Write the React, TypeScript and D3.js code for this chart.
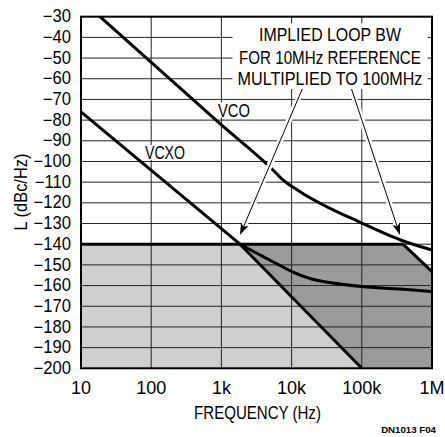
import { useEffect, useRef } from 'react';
import * as d3 from 'd3';

// axis ticks
const xTicks = [10, 100, 1e3, 1e4, 1e5, 1e6];
const xTickLabels = ['10', '100', '1k', '10k', '100k', '1M'];
const yTicks = [-30, -40, -50, -60, -70, -80, -90, -100, -110, -120, -130, -140, -150, -160, -170, -180, -190, -200];

// VCO free-running phase noise
const vcoFreq = [18.6, 1000, 5430, 7300, 13200, 100000, 372000, 1e6];
const vcoNoise = [-30, -82.3, -104.1, -108.5, -114.6, -129.8, -138.2, -142.8];

// VCXO reference phase noise
const vcxoFreq = [10, 1840, 100000];
const vcxoNoise = [-76, -140, -200];

// locked output curve
const pllFreq = [1840, 3550, 6840, 10470, 18280, 38900, 100000, 350000, 1e6];
const pllNoise = [-140, -145.2, -150.3, -153.5, -156.6, -158.8, -160.5, -161.7, -162.9];

// -140 floor and right boundary of the loop bandwidth region
const floorLevel = -140;
const edgeFreq = [386000, 1e6];
const edgeNoise = [-140, -153.3];

// annotation
const noteLines = ['IMPLIED LOOP BW', 'FOR 10MHz REFERENCE', 'MULTIPLIED TO 100MHz'];
const noteWidths = [142, 182, 185];
const noteFreq = 35200;
const noteLevels = [-38.6, -49.6, -60.1];
const arrowApex = [35200, -33.5];
const arrowTips = [[1840, -135.6], [350000, -135.6]];

const curveLabels = [
  { text: 'VCO', f: 1510, v: -75.1, w: 32 },
  { text: 'VCXO', f: 157, v: -95.7, w: 40 },
];

export default function App() {
  const svgRef = useRef<SVGSVGElement>(null);

  useEffect(() => {
    const svg = d3.select(svgRef.current);
    svg.selectAll('*').remove();
    const font = "'Liberation Sans', Arial, sans-serif";

    const x = d3.scaleLog().domain([10, 1e6]).range([81, 432]);
    const y = d3.scaleLinear().domain([-200, -30]).range([368.3, 16.7]);

    const toPts = (fs: number[], vs: number[]) => fs.map((f, i) => [x(f), y(vs[i])] as [number, number]);

    // 横幅を合わせる（細めの書体の代わり）
    const label = (parent: any, px: number, py: number, s: string, size: number, width: number | null,
      anchor = 'middle', baseline = 'auto') => {
      const t = parent.append('text')
        .attr('x', 0).attr('y', 0)
        .attr('text-anchor', anchor)
        .attr('dominant-baseline', baseline)
        .attr('font-family', font)
        .attr('font-size', size)
        .text(s);
      let sx = 1;
      if (width) {
        const n = (t.node() as SVGTextElement).getComputedTextLength();
        sx = width / n;
      }
      t.attr('transform', `translate(${px},${py}) scale(${sx},1)`);
      return t;
    };

    // 塗り
    const crossF = vcxoFreq[1];
    const light: [number, number][] = [
      [x(10), y(floorLevel)],
      ...toPts(vcxoFreq.slice(1), vcxoNoise.slice(1)),
      [x(10), y(-200)],
    ];
    svg.append('path')
      .attr('d', 'M' + light.join('L') + 'Z')
      .attr('fill', '#cfcfcf');

    const dark: [number, number][] = [
      [x(crossF), y(floorLevel)],
      ...toPts(edgeFreq, edgeNoise),
      [x(1e6), y(-200)],
      [x(vcxoFreq[2]), y(vcxoNoise[2])],
    ];
    svg.append('path')
      .attr('d', 'M' + dark.join('L') + 'Z')
      .attr('fill', '#9b9b9b');

    // grid
    svg.append('g').selectAll('line')
      .data(yTicks.slice(1, -1))
      .enter().append('line')
      .attr('x1', x(10)).attr('x2', x(1e6))
      .attr('y1', d => y(d)).attr('y2', d => y(d))
      .attr('stroke', '#222').attr('stroke-width', 1);
    svg.append('g').selectAll('line')
      .data(xTicks.slice(1, -1))
      .enter().append('line')
      .attr('x1', d => x(d)).attr('x2', d => x(d))
      .attr('y1', y(-30)).attr('y2', y(-200))
      .attr('stroke', '#222').attr('stroke-width', 1);

    // curves
    const line = d3.line<[number, number]>().curve(d3.curveMonotoneX);
    const straight = d3.line<[number, number]>();
    const thick = (d: string | null) => svg.append('path')
      .attr('d', d)
      .attr('fill', 'none')
      .attr('stroke', '#000')
      .attr('stroke-width', 3)
      .attr('stroke-linejoin', 'round');

    thick(straight([[x(10), y(floorLevel)], [x(edgeFreq[0]), y(floorLevel)]]));
    thick(straight(toPts(edgeFreq, edgeNoise)));
    thick(straight(toPts(vcxoFreq, vcxoNoise)));
    thick(line(toPts(pllFreq, pllNoise)));
    thick(line(toPts(vcoFreq, vcoNoise)));

    // curve labels with white background
    curveLabels.forEach(l => {
      const g = svg.append('g');
      const cx = x(l.f), cy = y(l.v);
      label(g, cx, cy, l.text, 18, l.w, 'middle', 'central');
      g.insert('rect', 'text')
        .attr('x', cx - l.w / 2 - 1).attr('y', cy - 7.5)
        .attr('width', l.w + 2).attr('height', 15)
        .attr('fill', '#fff');
    });

    // arrows
    const apex = [x(arrowApex[0]), y(arrowApex[1])];
    const tips = arrowTips.map(t => [x(t[0]), y(t[1])]);
    tips.forEach(tp => {
      svg.append('line')
        .attr('x1', apex[0]).attr('y1', apex[1])
        .attr('x2', tp[0]).attr('y2', tp[1])
        .attr('stroke', '#fff').attr('stroke-width', 6);
    });
    tips.forEach(tp => {
      const ang = Math.atan2(tp[1] - apex[1], tp[0] - apex[0]);
      const len = 12, hw = 4, notch = 9;
      const ca = Math.cos(ang), sa = Math.sin(ang);
      const p = (a: number, b: number) => [tp[0] - a * ca - b * sa, tp[1] - a * sa + b * ca];
      svg.append('line')
        .attr('x1', apex[0]).attr('y1', apex[1])
        .attr('x2', p(notch, 0)[0]).attr('y2', p(notch, 0)[1])
        .attr('stroke', '#000').attr('stroke-width', 1);
      svg.append('path')
        .attr('d', 'M' + [tp, p(len, hw), p(notch, 0), p(len, -hw)].join('L') + 'Z')
        .attr('fill', '#000');
    });

    // annotation
    const ng = svg.append('g');
    const top = y(noteLevels[0]) - 11, bottom = y(noteLevels[2]) + 10;
    const wMax = d3.max(noteWidths) as number;
    ng.append('rect')
      .attr('x', x(noteFreq) - wMax / 2 - 5).attr('y', top)
      .attr('width', wMax + 10).attr('height', bottom - top)
      .attr('fill', '#fff');
    noteLines.forEach((s, i) => {
      label(ng, x(noteFreq), y(noteLevels[i]), s, 19, noteWidths[i], 'middle', 'central');
    });

    // frame
    svg.append('rect')
      .attr('x', x(10)).attr('y', y(-30))
      .attr('width', x(1e6) - x(10)).attr('height', y(-200) - y(-30))
      .attr('fill', 'none').attr('stroke', '#000').attr('stroke-width', 2);

    // axis labels
    const yl = svg.append('g');
    yTicks.forEach(d => {
      label(yl, 71, y(d), String(d).replace('-', '\u2212'), 17.5, null, 'end', 'central')
        .attr('transform', `translate(71,${y(d)}) scale(0.95,1)`);
    });

    const xl = svg.append('g');
    xTicks.forEach((d, i) => {
      label(xl, x(d), 394, xTickLabels[i], 18, null);
    });

    label(svg, (x(10) + x(1e6)) / 2 + 1, 418.5, 'FREQUENCY (Hz)', 18, 127);
    const yt = label(svg, 0, 0, 'L (dBc/Hz)', 17.5, null, 'middle', 'central');
    const n = (yt.node() as SVGTextElement).getComputedTextLength();
    yt.attr('transform', `translate(21,192) rotate(-90) scale(${77 / n},1)`);

    label(svg, 436, 433, 'DN1013 F04', 9.5, 55, 'end').attr('font-weight', 'bold');
  }, []);

  return (
    <div style={{ position: 'absolute', left: 0, top: 0 }}>
      <svg ref={svgRef} width={445} height={437} style={{ display: 'block', background: '#fff' }} />
    </div>
  );
}
